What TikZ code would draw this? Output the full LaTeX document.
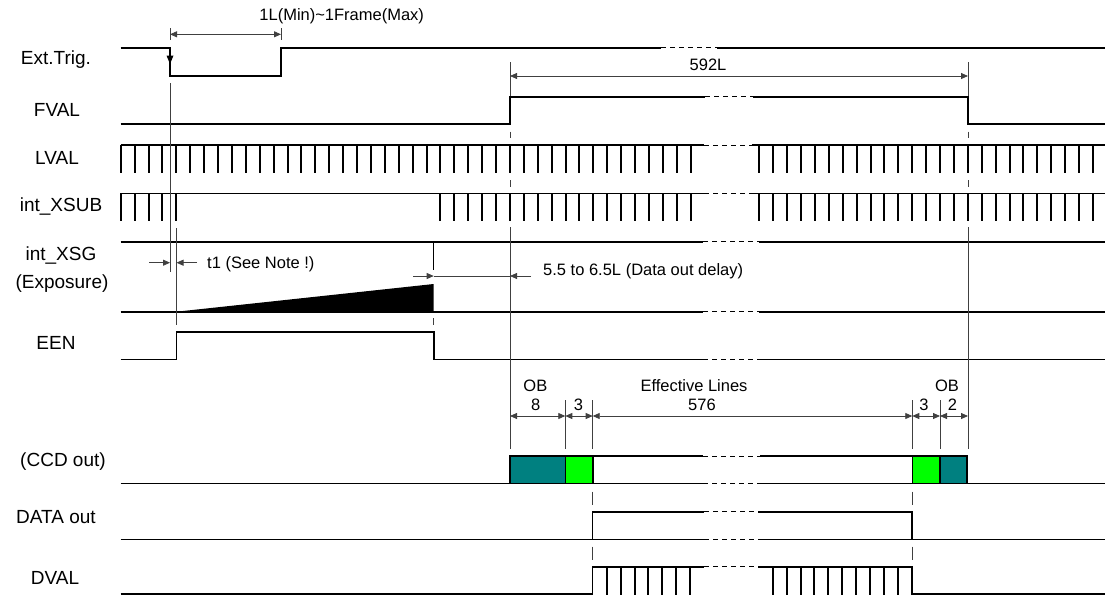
\documentclass[tikz,border=0pt]{standalone}
\usepackage{fontspec}
\setmainfont{Liberation Sans}
\usetikzlibrary{arrows.meta}
\definecolor{obteal}{RGB}{0,128,128}
\definecolor{effgreen}{RGB}{0,255,0}
\begin{document}
\begin{tikzpicture}[x=1pt,y=-1pt,
  sig/.style={line width=1.6pt, line cap=butt, line join=miter},
  tick/.style={line width=2pt, line cap=butt},
  gapdash/.style={line width=1pt, dash pattern=on 5pt off 4pt},
  ref/.style={line width=0.8pt, draw=black!75},
  tip/.style={-{Triangle[length=7pt,width=6pt]}},
  dimline/.style={line width=0.8pt, draw=black!75, {Triangle[length=7pt,width=6pt]}-{Triangle[length=7pt,width=6pt]}},
  lbl/.style={font=\fontsize{19}{21}\selectfont, inner sep=0pt},
  ann/.style={font=\fontsize{16.5}{18}\selectfont, inner sep=0pt},
]
\useasboundingbox (0,0) rectangle (1105,595);

% ---------- left labels ----------
\node[lbl] (lext) at (56,60) {Ext.Trig.};
\node[lbl] (lfval) at (57,110) {FVAL};
\node[lbl] (llval) at (57,158) {LVAL};
\node[lbl] (lxsub) at (61,206) {int\_XSUB};
\node[lbl] (lxsg) at (61,255) {int\_XSG};
\node[lbl] (lexp) at (62,284) {(Exposure)};
\node[lbl] (leen) at (56,343) {EEN};
\node[lbl] (lccd) at (63,462) {(CCD out)};
\node[lbl] (ldata) at (56,517) {DATA out};
\node[lbl] (ldval) at (55,578) {DVAL};

% ---------- Ext.Trig ----------
\draw[sig] (120.7,47.7) -- (170,47.7) -- (170,75.7) -- (281,75.7) -- (281,47.7) -- (661,47.7);
\draw[gapdash] (661,47.7) -- (717,47.7);
\draw[sig] (717,47.7) -- (1105,47.7);
\fill (166.5,55.5) -- (173.5,55.5) -- (170,64) -- cycle;
\draw[ref] (170,28) -- (170,40);
\draw[ref] (281,28) -- (281,40);
\draw[dimline] (170,34.3) -- (281,34.3);
\node[ann] (tmin) at (341.7,16.7) {1L(Min)\textasciitilde 1Frame(Max)};

% ---------- FVAL ----------
\draw[sig] (120.7,124) -- (510,124) -- (510,96.7) -- (705,96.7);
\draw[gapdash] (705,96.7) -- (753,96.7);
\draw[sig] (753,96.7) -- (968,96.7) -- (968,124) -- (1105,124);
\draw[ref] (510,62) -- (510,96);
\draw[ref] (968,62) -- (968,96);
\draw[dimline] (510,76) -- (968,76);
\node[ann] (t592) at (708,65) {592L};

% ---------- LVAL ----------
\draw[sig] (120.7,145) -- (704,145);
\draw[gapdash] (704,145) -- (751.7,145);
\draw[sig] (751.7,145) -- (1105,145);
\foreach \k in {0,...,41} {\draw[tick] ({120.7+13.9*\k},145) -- ({120.7+13.9*\k},173.3);}
\foreach \j in {0,...,24} {\draw[tick] ({759.3+13.9*\j},145) -- ({759.3+13.9*\j},173.3);}

% ---------- int_XSUB ----------
\draw[sig] (120.7,193.3) -- (704,193.3);
\draw[gapdash] (704,193.3) -- (751.7,193.3);
\draw[sig] (751.7,193.3) -- (1105,193.3);
\foreach \k in {0,...,4,23,24,...,41} {\draw[tick] ({120.7+13.9*\k},193.3) -- ({120.7+13.9*\k},221);}
\foreach \j in {0,...,24} {\draw[tick] ({759.3+13.9*\j},193.3) -- ({759.3+13.9*\j},221);}

% ---------- int_XSG / Exposure ----------
\draw[sig] (120.7,241.7) -- (703,241.7);
\draw[gapdash] (703,241.7) -- (759,241.7);
\draw[sig] (759,241.7) -- (1105,241.7);
\draw[line width=1.2pt] (433.7,241.7) -- (433.7,270);
\draw[sig] (120.7,311.7) -- (703,311.7);
\draw[gapdash] (703,311.7) -- (759,311.7);
\draw[sig] (759,311.7) -- (1105,311.7);
\fill (176.5,311.7) -- (433.7,284) -- (433.7,311.7) -- cycle;

% t1 dimension
\draw[ref] (170,83) -- (170,272);
\draw[ref] (176.5,228) -- (176.5,325);
\draw[ref,tip] (149,262.7) -- (170,262.7);
\draw[ref,tip] (197,262.7) -- (176.5,262.7);
\node[ann,anchor=base west] (tt1) at (207,268) {t1 (See Note !)};

% data out delay
\draw[ref,tip] (413,276) -- (433.7,276);
\draw[ref] (433.7,276) -- (510,276);
\draw[ref,tip] (531,276) -- (510,276);
\node[ann,anchor=base west] (tdel) at (543,275) {5.5 to 6.5L (Data out delay)};

% ---------- EEN ----------
\draw[sig] (120.7,359.3) -- (176.5,359.3) -- (176.5,331.7) -- (433.7,331.7) -- (433.7,359.3) -- (703,359.3);
\draw[gapdash] (703,359.3) -- (759,359.3);
\draw[sig] (759,359.3) -- (1105,359.3);
\draw[ref] (433.7,318) -- (433.7,325);

% ---------- reference verticals ----------
\foreach \x in {510,968} {
  \draw[ref] (\x,131.7) -- (\x,138.3);
  \draw[ref] (\x,180) -- (\x,186.7);
  \draw[ref] (\x,227) -- (\x,449);
}
\foreach \x in {565.3,940} {\draw[ref] (\x,400) -- (\x,449);}
\foreach \x in {592.7,912.3} {
  \draw[ref] (\x,400) -- (\x,449);
  \draw[ref] (\x,491.7) -- (\x,505);
  \draw[ref] (\x,546.7) -- (\x,560);
}

% ---------- line count dimensions ----------
\draw[dimline] (510,416) -- (565.3,416);
\draw[dimline] (565.3,416) -- (592.7,416);
\draw[dimline] (592.7,416) -- (912.3,416);
\draw[dimline] (912.3,416) -- (940,416);
\draw[dimline] (940,416) -- (968,416);
\node[ann] (ob1) at (535.4,386) {OB};
\node[ann] (n8) at (535.8,405) {8};
\node[ann] (n3a) at (578.4,405) {3};
\node[ann] (eff) at (694,386) {Effective Lines};
\node[ann] (n576) at (702,405) {576};
\node[ann] (n3b) at (924,405) {3};
\node[ann] (ob2) at (947,386) {OB};
\node[ann] (n2) at (952.5,405) {2};

% ---------- CCD out ----------
\draw[sig] (120.7,483.3) -- (703,483.3);
\draw[gapdash] (703,483.3) -- (760,483.3);
\draw[sig] (760,483.3) -- (1105,483.3);
\draw[sig,fill=obteal] (510,456) rectangle (565.3,483.3);
\draw[sig,fill=effgreen] (565.3,456) rectangle (592.7,483.3);
\draw[sig] (592.7,456) -- (703,456);
\draw[gapdash] (703,456) -- (760,456);
\draw[sig] (760,456) -- (912.3,456);
\draw[sig,fill=effgreen] (912.3,456) rectangle (940,483.3);
\draw[sig,fill=obteal] (940,456) rectangle (967,483.3);

% ---------- DATA out ----------
\draw[sig] (120.7,539.3) -- (704,539.3);
\draw[gapdash] (704,539.3) -- (758,539.3);
\draw[sig] (758,539.3) -- (1105,539.3);
\draw[sig] (592.5,539.3) -- (592.5,511.7) -- (704,511.7);
\draw[gapdash] (704,511.7) -- (758,511.7);
\draw[sig] (758,511.7) -- (911.7,511.7) -- (911.7,539.3);

% ---------- DVAL ----------
\draw[sig] (120.7,594) -- (592.5,594) -- (592.5,566.7) -- (704,566.7);
\draw[gapdash] (704,566.7) -- (758,566.7);
\draw[sig] (758,566.7) -- (911.7,566.7) -- (911.7,594) -- (1105,594);
\foreach \i in {0,...,6} {\draw[tick] ({606.7+13.9*\i},566.7) -- ({606.7+13.9*\i},595);}
\foreach \i in {0,...,9} {\draw[tick] ({772.7+13.9*\i},566.7) -- ({772.7+13.9*\i},595);}
\end{tikzpicture}
\end{document}
